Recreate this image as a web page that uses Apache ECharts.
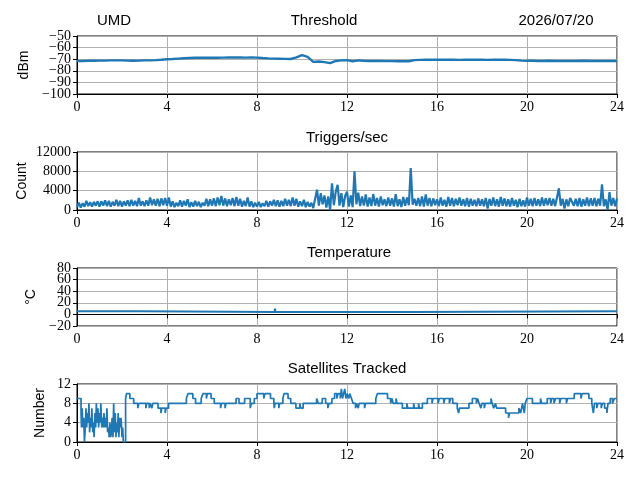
<!DOCTYPE html>
<html>
<head>
<meta charset="utf-8">
<script src="https://cdn.jsdelivr.net/npm/echarts@6/dist/echarts.min.js"></script>
<style>
  html, body { margin: 0; padding: 0; background: #fff; }
  #chart { width: 640px; height: 480px; }
</style>
</head>
<body>
<div id="chart"></div>
<script>
/* ---- data (hours 0..24) ---- */
const xTicks = [0, 4, 8, 12, 16, 20, 24];
const thrTicks  = [-100, -90, -80, -70, -60, -50];
const trigTicks = [0, 4000, 8000, 12000];
const tempTicks = [-20, 0, 20, 40, 60, 80];
const satTicks  = [0, 4, 8, 12];

// Threshold, dBm, one sample every 15 min
const thrStep = 0.25;
const thrValues = [
  -71.5, -71.5, -71.3, -71.3, -71.2, -71.2, -71.0, -71.0, -71.0, -71.2, -71.3, -71.2, -71.0, -71.0, -70.8, -70.5,
  -70.0, -69.8, -69.5, -69.2, -69.0, -68.8, -68.7, -68.8, -68.8, -68.7, -68.6, -68.5, -68.4, -68.5, -68.6, -68.4,
  -68.6, -69.0, -69.3, -69.5, -69.6, -69.7, -69.8, -68.5, -66.5, -68.0, -72.3, -72.0, -72.5, -73.4, -71.5, -71.0,
  -70.8, -71.8, -71.0, -71.3, -71.5, -71.6, -71.6, -71.7, -71.7, -71.8, -71.8, -71.8, -70.8, -70.6, -70.5, -70.5,
  -70.5, -70.4, -70.5, -70.5, -70.6, -70.5, -70.5, -70.4, -70.5, -70.6, -70.5, -70.5, -70.5, -70.6, -70.8, -71.2,
  -71.4, -71.4, -71.5, -71.5, -71.4, -71.5, -71.5, -71.6, -71.5, -71.5, -71.4, -71.5, -71.5, -71.5, -71.6, -71.5,
  -71.5
];

// Triggers/sec, one sample every 5 min (12 per hour)
const trigStep = 1 / 12;
const trigValues = [
  600, 1500, 500, 1400, 700, 1900, 800, 1600, 700, 1700, 900, 1800,
  700, 1800, 900, 2000, 800, 1900, 700, 1700, 900, 2100, 800, 1900,
  700, 1800, 900, 2000, 800, 2100, 900, 1900, 800, 2500, 900, 1800,
  800, 2000, 900, 2600, 1000, 2200, 900, 2300, 800, 2400, 1000, 2500,
  900, 2600, 700, 1800, 600, 1500, 800, 2000, 700, 1900, 900, 2200,
  600, 1600, 700, 1900, 800, 1700, 600, 1500, 900, 2300, 800, 2200,
  900, 2400, 800, 2600, 1000, 2900, 900, 2400, 800, 2200, 1000, 2500,
  800, 2700, 900, 2300, 700, 1900, 800, 2600, 700, 1800, 600, 1500,
  700, 1700, 600, 1400, 800, 1900, 700, 1800, 900, 2100, 800, 2000,
  700, 1900, 800, 2300, 900, 2100, 800, 2600, 900, 2300, 700, 1800,
  800, 2100, 600, 1700, 700, 1500, 400, 0, 4200, 900, 3500, 1200,
  3000, 500, 2800, 0, 5500, 1000, 3800, 5200, 900, 3500, 600, 2900,
  3800, 700, 3000, 600, 8000, 1200, 3600, 800, 2800, 900, 3200, 700,
  2600, 800, 3300, 900, 2500, 700, 2800, 1000, 2200, 800, 2600, 900,
  2400, 700, 3300, 800, 2200, 600, 2700, 900, 2600, 1000, 8700, 1100,
  2300, 900, 2500, 800, 2800, 700, 3200, 900, 2500, 800, 2400, 1000,
  2200, 800, 2600, 900, 2100, 700, 2700, 900, 2500, 800, 2300, 1000,
  2600, 900, 2200, 800, 2500, 700, 2300, 900, 2100, 800, 2400, 900,
  2200, 800, 2500, 300, 2300, 900, 2600, 800, 2200, 700, 2700, 900,
  2400, 800, 2200, 700, 2500, 900, 2100, 600, 2300, 800, 2000, 700,
  2600, 900, 2300, 800, 2500, 900, 2200, 800, 2600, 900, 2400, 1000,
  2500, 900, 2300, 800, 2600, 4500, 900, 2300, 300, 2200, 800, 2500,
  2400, 900, 2300, 800, 2500, 700, 2200, 900, 2600, 800, 2400, 900,
  2500, 800, 2300, 900, 5300, 800, 2200, 0, 3700, 900, 2500, 800,
  2400
];

// Temperature, degC, at the hours where it changes
const tempHours  = [0, 2.9, 2.92, 8.78, 8.8, 8.82, 14.9, 14.92, 24];
const tempValues = [5.5, 5.5, 4, 4, 10, 4, 4, 5.5, 5.5];

// Satellites tracked, value holds from each hour until the next one
const satHours = [
  0, 0.18, 0.2, 0.23, 0.26, 0.3, 0.33, 0.37, 0.4, 0.43, 0.46, 0.5, 0.53, 0.56, 0.6, 0.63, 0.66, 0.7,
  0.73, 0.76, 0.8, 0.83, 0.86, 0.9, 0.93, 0.96, 1.0, 1.03, 1.06, 1.1, 1.13, 1.16, 1.2, 1.23, 1.26,
  1.3, 1.33, 1.36, 1.4, 1.43, 1.46, 1.5, 1.53, 1.56, 1.6, 1.63, 1.66, 1.7, 1.73, 1.76, 1.8, 1.83,
  1.86, 1.9, 1.93, 1.96, 2.0, 2.03, 2.06, 2.16, 2.2, 2.35, 2.52, 2.7, 2.75, 3.06, 3.1, 3.21, 3.25,
  3.33, 3.37, 3.6, 3.73, 3.77, 3.92, 3.96, 4.07, 4.86, 4.93, 5.15, 5.27, 5.52, 5.6, 5.75, 5.79,
  5.96, 6.1, 6.38, 6.42, 6.58, 6.62, 7.07, 7.2, 7.45, 7.7, 7.75, 7.88, 8.0, 8.3, 8.35, 8.6, 8.75,
  8.77, 8.8, 8.97, 9.0, 9.15, 9.2, 9.38, 9.5, 9.73, 9.9, 9.95, 10.05, 10.65, 10.72, 10.9, 11.05,
  11.15, 11.2, 11.33, 11.45, 11.55, 11.6, 11.7, 11.75, 11.8, 11.85, 11.9, 11.95, 12.0, 12.08, 12.12,
  12.2, 12.27, 12.38, 12.42, 12.5, 12.54, 12.78, 12.82, 13.28, 13.35, 13.8, 13.94, 14.0, 14.05,
  14.18, 14.22, 14.46, 14.66, 14.7, 14.96, 15.0, 15.18, 15.22, 15.35, 15.57, 15.78, 15.82, 16.05,
  16.1, 16.3, 16.35, 16.55, 16.6, 16.7, 16.9, 16.96, 17.0, 17.42, 17.57, 17.75, 17.8, 17.87, 17.95,
  18.0, 18.1, 18.15, 18.4, 18.45, 18.52, 18.6, 18.65, 19.05, 19.18, 19.22, 19.64, 19.72, 19.76,
  19.8, 19.88, 19.92, 20.0, 20.24, 20.6, 20.65, 20.9, 21.05, 21.1, 21.2, 21.27, 21.45, 21.5, 21.75,
  21.8, 22.1, 22.4, 22.45, 22.75, 22.88, 22.95, 23.0, 23.1, 23.15, 23.3, 23.35, 23.45, 23.55, 23.6,
  23.7, 23.8, 23.88, 24
];
const satValues = [
  9, 6, 3, 7, 3, 5, 0, 3, 7, 3, 6, 4, 8, 2, 5, 3, 7, 2,
  4, 1, 6, 3, 8, 4, 7, 3, 6, 4, 8, 3, 5, 3, 6, 3, 5,
  3, 7, 2, 3, 1, 4, 1, 2, 5, 1, 8, 2, 6, 1, 4, 2, 6,
  1, 5, 3, 5, 1, 3, 0, 9, 10, 9, 8, 7, 8, 7, 8, 7, 8,
  7, 8, 7, 6, 7, 6, 7, 8, 9, 10, 9, 8, 9, 10, 9, 10,
  9, 8, 7, 8, 7, 8, 9, 8, 9, 7, 8, 9, 10, 9, 10, 9, 8,
  7, 8, 7, 8, 9, 10, 9, 8, 7, 8, 7, 8, 9, 8, 9, 8,
  7, 8, 9, 10, 9, 10, 9, 11, 9, 10, 11, 9, 10, 9, 10,
  9, 8, 7, 8, 7, 8, 7, 8, 9, 10, 9, 8, 9, 8,
  9, 8, 7, 8, 7, 8, 7, 8, 7, 8, 9, 8, 9, 8,
  9, 8, 9, 8, 9, 8, 7, 6, 7, 8, 9, 8, 9, 8, 7,
  8, 7, 8, 9, 8, 7, 8, 7, 6, 5, 6, 7, 6, 7,
  8, 6, 8, 9, 8, 9, 8, 9, 8, 9, 8, 9, 8, 9, 8,
  9, 10, 9, 10, 9, 8, 6, 8, 7, 8, 7, 8, 7, 6, 8,
  9, 8, 9, 9
];

/* ---- build series data ---- */
const thrData  = thrValues.map((v, i) => [i * thrStep, v]);
const trigData = trigValues.map((v, i) => [i * trigStep, v]);
const tempData = tempValues.map((v, i) => [tempHours[i], v]);
const satData  = satValues.map((v, i) => [satHours[i], v]);

const BLUE = '#1f77b4';
const SERIF = '"Liberation Serif", "DejaVu Serif", serif';
const SANS = '"Liberation Sans", "DejaVu Sans", sans-serif';
const minus = v => String(v).replace('-', '\u2212');

const panels = [
  { top: 36,  ticks: thrTicks,  name: 'dBm',    gap: 44, data: thrData,  width: 2.4 },
  { top: 152, ticks: trigTicks, name: 'Count',  gap: 48, data: trigData, width: 2.2 },
  { top: 268, ticks: tempTicks, name: '°C',     gap: 36, data: tempData, width: 2 },
  { top: 384, ticks: satTicks,  name: 'Number', gap: 30, data: satData,  width: 1.7, step: 'end' }
];

const labelStyle = { color: '#000', fontFamily: SERIF, fontSize: 14 };

// y ticks are packed tight (as in the reference); ECharts drops touching labels,
// so every other label goes on a second, bare axis over the same grid
const primaryY = panels.map((p, i) => ({
  type: 'value', gridIndex: i,
  min: p.ticks[0], max: p.ticks[p.ticks.length - 1], interval: p.ticks[1] - p.ticks[0],
  name: p.name, nameLocation: 'middle', nameGap: p.gap, nameRotate: 90,
  nameTextStyle: { fontFamily: SANS, fontSize: 14, color: '#000' },
  axisLine: { show: true, lineStyle: { color: '#000', width: 1 } },
  axisTick: { show: true, length: 4, lineStyle: { color: '#000' } },
  axisLabel: Object.assign({
    margin: 6, formatter: minus, showMinLabel: true, showMaxLabel: true,
    customValues: p.ticks.filter((t, k) => k % 2 === 0)
  }, labelStyle),
  splitLine: { show: true, lineStyle: { color: '#b0b0b0', width: 1 } }
}));
const secondaryY = panels.map((p, i) => ({
  type: 'value', gridIndex: i, position: 'left',
  min: p.ticks[0], max: p.ticks[p.ticks.length - 1], interval: p.ticks[1] - p.ticks[0],
  axisLine: { show: false }, axisTick: { show: false }, splitLine: { show: false },
  axisLabel: Object.assign({
    margin: 6, formatter: minus, showMinLabel: true, showMaxLabel: true,
    customValues: p.ticks.filter((t, k) => k % 2 === 1)
  }, labelStyle)
}));

const chart = echarts.init(document.getElementById('chart'));

const option = {
  animation: false,
  backgroundColor: '#fff',
  title: [
    { text: 'UMD',                left: 114, top: 13,  textAlign: 'center' },
    { text: 'Threshold',          left: 324, top: 13,  textAlign: 'center' },
    { text: '2026/07/20',         left: 556, top: 13,  textAlign: 'center' },
    { text: 'Triggers/sec',       left: 347, top: 130, textAlign: 'center' },
    { text: 'Temperature',        left: 349, top: 245, textAlign: 'center' },
    { text: 'Satellites Tracked', left: 347, top: 361, textAlign: 'center' }
  ].map(t => Object.assign(t, {
    padding: 0,
    textStyle: { fontFamily: SANS, fontSize: 15, fontWeight: 'normal', color: '#000' }
  })),
  grid: panels.map(p => ({
    left: 77, right: 23, top: p.top, height: 58,
    show: true, borderColor: '#000', borderWidth: 1, backgroundColor: 'transparent'
  })),
  xAxis: panels.map((p, i) => ({
    type: 'value', gridIndex: i, min: 0, max: 24, interval: 4,
    axisLine: { show: true, lineStyle: { color: '#000', width: 1 } },
    axisTick: { show: true, length: 4, lineStyle: { color: '#000' } },
    axisLabel: Object.assign({ margin: 6, showMinLabel: true, showMaxLabel: true,
                               customValues: xTicks }, labelStyle),
    splitLine: { show: true, lineStyle: { color: '#b0b0b0', width: 1 } }
  })),
  yAxis: primaryY.concat(secondaryY),
  series: panels.map((p, i) => ({
    type: 'line', xAxisIndex: i, yAxisIndex: i,
    data: p.data, step: p.step || false,
    showSymbol: false, symbol: 'none', sampling: null,
    lineStyle: { color: BLUE, width: p.width },
    itemStyle: { color: BLUE }
  }))
};

chart.setOption(option);
</script>
</body>
</html>
